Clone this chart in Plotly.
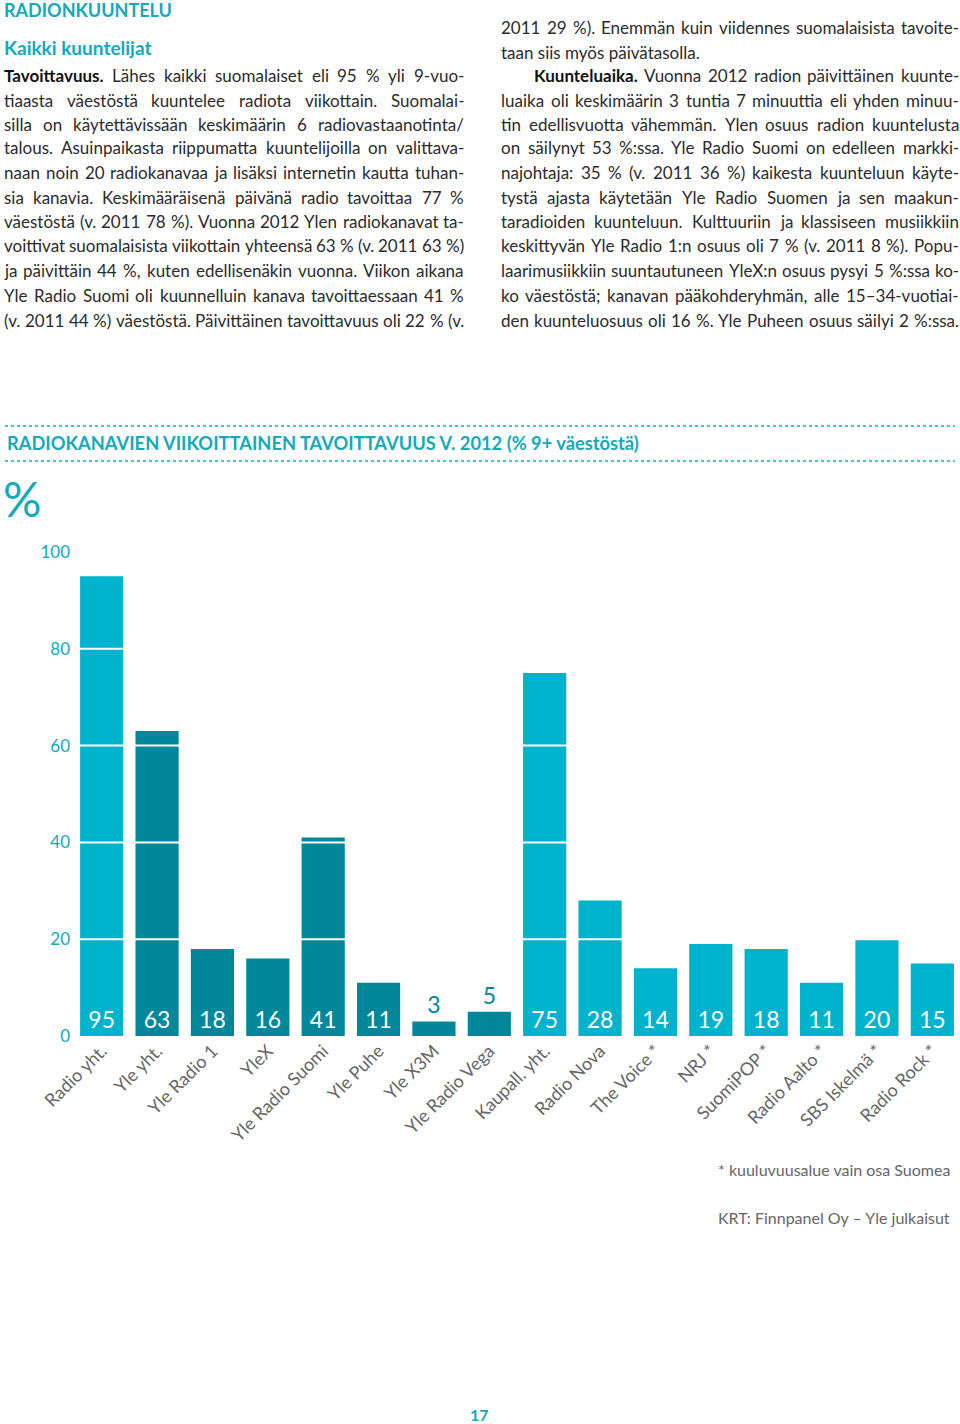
import glob
import plotly.graph_objects as go

W, H = 960, 1424
TEAL = "#14a9bb"
LIGHT = "#00b3cc"
DARK = "#00879a"
TXT = "#2b2b2b"
FONT = "Lato"
BODY = 17

# ---------------- data ----------------
channels = ["Radio yht.", "Yle yht.", "Yle Radio 1", "YleX", "Yle Radio Suomi", "Yle Puhe",
            "Yle X3M", "Yle Radio Vega", "Kaupall. yht.", "Radio Nova", "The Voice *", "NRJ *",
            "SuomiPOP *", "Radio Aalto *", "SBS Iskelmä *", "Radio Rock *"]
reach = [95, 63, 18, 16, 41, 11, 3, 5, 75, 28, 14, 19, 18, 11, 20, 15]
group = ["total", "yle", "yle", "yle", "yle", "yle", "yle", "yle",
         "total", "comm", "comm", "comm", "comm", "comm", "comm", "comm"]
y_ticks = [0, 20, 40, 60, 80, 100]

# body text lines; "**word**" marks bold lead words
left_col = [
    "**Tavoittavuus.** Lähes kaikki suomalaiset eli 95 % yli 9-vuo-",
    "tiaasta väestöstä kuuntelee radiota viikottain. Suomalai-",
    "silla on käytettävissään keskimäärin 6 radiovastaanotinta/",
    "talous. Asuinpaikasta riippumatta kuuntelijoilla on valittava-",
    "naan noin 20 radiokanavaa ja lisäksi internetin kautta tuhan-",
    "sia kanavia. Keskimääräisenä päivänä radio tavoittaa 77 %",
    "väestöstä (v. 2011 78 %). Vuonna 2012 Ylen radiokanavat ta-",
    "voittivat suomalaisista viikottain yhteensä 63 % (v. 2011 63 %)",
    "ja päivittäin 44 %, kuten edellisenäkin vuonna. Viikon aikana",
    "Yle Radio Suomi oli kuunnelluin kanava tavoittaessaan 41 %",
    "(v. 2011 44 %) väestöstä. Päivittäinen tavoittavuus oli 22 % (v.",
]
right_col = [
    "2011 29 %). Enemmän kuin viidennes suomalaisista tavoite-",
    "taan siis myös päivätasolla.",
    "**Kuunteluaika.** Vuonna 2012 radion päivittäinen kuunte-",
    "luaika oli keskimäärin 3 tuntia 7 minuuttia eli yhden minuu-",
    "tin edellisvuotta vähemmän. Ylen osuus radion kuuntelusta",
    "on säilynyt 53 %:ssa. Yle Radio Suomi on edelleen markki-",
    "najohtaja: 35 % (v. 2011 36 %) kaikesta kuunteluun käyte-",
    "tystä ajasta käytetään Yle Radio Suomen ja sen maakun-",
    "taradioiden kuunteluun. Kulttuuriin ja klassiseen musiikkiin",
    "keskittyvän Yle Radio 1:n osuus oli 7 % (v. 2011 8 %). Popu-",
    "laarimusiikkiin suuntautuneen YleX:n osuus pysyi 5 %:ssa ko-",
    "ko väestöstä; kanavan pääkohderyhmän, alle 15–34-vuotiai-",
    "den kuunteluosuus oli 16 %. Yle Puheen osuus säilyi 2 %:ssa.",
]

# ---------------- helpers ----------------
def px(x):
    return x / W

def py(y):
    return 1 - y / H


def get_measurer():
    try:
        from PIL import ImageFont
        reg = glob.glob("/usr/share/fonts/**/Lato-Regular.ttf", recursive=True)
        bld = glob.glob("/usr/share/fonts/**/Lato-Bold.ttf", recursive=True)
        if not reg:
            return None
        f_reg = ImageFont.truetype(reg[0], 100)
        f_bld = ImageFont.truetype(bld[0], 100) if bld else f_reg

        def measure(word, bold, size):
            f = f_bld if bold else f_reg
            return f.getlength(word) * size / 100.0
        return measure
    except Exception:
        return None


measure = get_measurer()

colors = [DARK if g == "yle" else LIGHT for g in group]
small = [v < 8 for v in reach]
textpos = ["outside" if s else "inside" for s in small]
textcol = [DARK if s else "white" for s in small]

fig = go.Figure()
fig.add_trace(go.Bar(
    x=channels, y=reach, marker=dict(color=colors, line=dict(width=0)),
    text=[str(v) for v in reach], textposition=textpos,
    insidetextanchor="start",
    textfont=dict(family=FONT, size=23, color=textcol),
    cliponaxis=False, hoverinfo="skip",
))

y0_px, y100_px = 1036, 552
fig.update_layout(
    width=W, height=H, margin=dict(l=0, r=0, t=0, b=0, pad=0, autoexpand=False),
    paper_bgcolor="white", plot_bgcolor="white",
    showlegend=False, bargap=0.22,
    font=dict(family=FONT, color=TXT),
    xaxis=dict(domain=[px(74), 1.0], range=[-0.5, 15.5], tickangle=-45, automargin=False,
               tickfont=dict(family=FONT, size=18, color="#666666"),
               showgrid=False, zeroline=False, showline=False, ticks=""),
    yaxis=dict(domain=[py(y0_px), py(y100_px)], range=[0, 100], tickvals=y_ticks,
               automargin=False,
               tickfont=dict(family=FONT, size=17, color=TEAL),
               showgrid=False, zeroline=False, showline=False, ticks="",
               ticklabelstandoff=3),
)

# white grid lines over the bars
for t in y_ticks[1:-1]:
    fig.add_shape(type="line", xref="x", yref="y", x0=-0.5, x1=15.5, y0=t, y1=t,
                  line=dict(color="white", width=2), layer="above")

ann = []
def text(x, y, s, size=16, color=TXT, anchor="left", bold=False):
    if bold:
        s = "<b>" + s + "</b>"
    ann.append(dict(x=px(x), y=py(y), xref="paper", yref="paper", text=s, showarrow=False,
                    xanchor=anchor, yanchor="middle", borderpad=0,
                    font=dict(family=FONT, size=size, color=color)))


def body_line(x0, x1, y, line, justify=True):
    words = line.split(" ")
    parsed = []
    for w in words:
        if w.startswith("**") and w.endswith("**"):
            parsed.append((w.strip("*"), True))
        else:
            parsed.append((w, False))
    if measure is None or not justify or len(parsed) < 2:
        s = " ".join(("<b style='color:#111'>%s</b>" % w) if b else w for w, b in parsed)
        text(x0, y, s, size=BODY)
        return
    widths = [measure(w, b, BODY) for w, b in parsed]
    gap = (x1 - x0 - sum(widths)) / (len(parsed) - 1)
    pos = x0
    for (w, b), wd in zip(parsed, widths):
        s = ("<b style='color:#111'>%s</b>" % w) if b else w
        text(pos, y, s, size=BODY)
        pos += wd + gap


text(3, 10, "RADIONKUUNTELU", size=18, color=TEAL, bold=True)
text(3, 47, "Kaikki kuuntelijat", size=19, color=TEAL, bold=True)

left_y = [76, 100, 124, 148, 173, 197, 221, 246, 270, 295, 320]
for yy, s in zip(left_y, left_col):
    body_line(3, 463, yy, s)
right_y = [27, 52, 76, 100, 124, 148, 173, 197, 221, 246, 270, 295, 320]
for i, (yy, s) in enumerate(zip(right_y, right_col)):
    body_line(533 if i == 2 else 500, 958, yy, s, justify=(i != 1))

# chart title with dotted rules
for yy in (426, 461):
    fig.add_shape(type="line", xref="paper", yref="paper", x0=px(5), x1=px(955),
                  y0=py(yy), y1=py(yy), line=dict(color=TEAL, width=1.5, dash="dot"))
text(6, 443, "RADIOKANAVIEN VIIKOITTAINEN TAVOITTAVUUS V. 2012 (% 9+ väestöstä)",
     size=18.3, color=TEAL, bold=True)
text(2, 498, "%", size=48, color=TEAL)

text(951, 1169, "* kuuluvuusalue vain osa Suomea", size=16, color="#666666", anchor="right")
text(951, 1217, "KRT: Finnpanel Oy – Yle julkaisut", size=16, color="#666666", anchor="right")
text(479, 1414, "17", size=16, color=TEAL, anchor="center", bold=True)

fig.update_layout(annotations=ann)
fig.write_html("out.html", config={"displayModeBar": False},
               post_script="document.body.style.margin='0px';")
